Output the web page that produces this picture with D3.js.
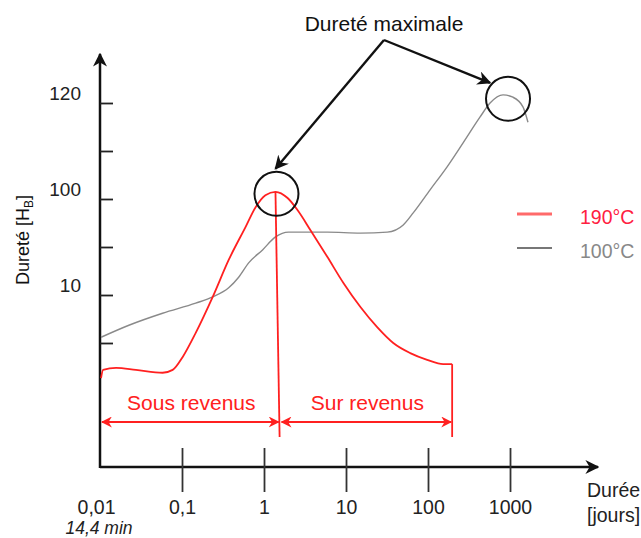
<!DOCTYPE html>
<html>
<head>
<meta charset="utf-8">
<style>
body { margin: 0; background: #fff; }
svg text { font-family: "Liberation Sans", Arial, sans-serif; }
</style>
</head>
<body>
<script src="https://cdn.jsdelivr.net/npm/d3@7/dist/d3.min.js"></script>
<script>
// durée en jours (échelle log), dureté en graduations de l'axe
const xTicks = [0.01, 0.1, 1, 10, 100, 1000];
const xTickLabels = ["0,01", "0,1", "1", "10", "100", "1000"];
const yTicks = [1, 2, 3, 4, 5, 6];
const yTickLabels = ["", "10", "", "100", "", "120"];

const days190 = [0.0103, 0.0109, 0.0157, 0.0274, 0.058, 0.077, 0.102, 0.147, 0.237, 0.371, 0.597, 0.79, 1.04, 1.38,
                 1.94, 2.56, 3.69, 5.94, 9.3, 15, 24, 37.7, 60.7, 97.7, 153, 197];
const hard190 = [0.27, 0.44, 0.48, 0.44, 0.38, 0.44, 0.71, 1.21, 1.96, 2.73, 3.42, 3.83, 4.08, 4.15,
                 4.02, 3.77, 3.35, 2.79, 2.25, 1.75, 1.33, 1.0, 0.79, 0.65, 0.56, 0.56];

const days100 = [0.0103, 0.0225, 0.058, 0.147, 0.237, 0.371, 0.491, 0.65, 0.96, 1.38, 1.99, 5.94, 15, 31.9,
                 49.9, 66, 106, 171, 268, 432, 571, 822, 1087, 1439, 1656];
const hard100 = [1.12, 1.37, 1.62, 1.83, 1.96, 2.15, 2.37, 2.67, 2.94, 3.21, 3.31, 3.31, 3.29, 3.31,
                 3.46, 3.71, 4.19, 4.67, 5.17, 5.71, 6.0, 6.17, 6.12, 5.92, 5.6];

const seriesNames = ["190°C", "100°C"];
const peakDays = [1.38, 822];     // maxima entourés
const peakHard = [4.15, 6.17];
const splitDays = 1.55;           // limite sous / sur revenus
const endDays = 197;

const width = 641, height = 538;
const x0 = 100, y0 = 467;

const xScale = d3.scaleLog().domain([0.01, 1000]).range([100, 510]);
const yScale = d3.scaleLinear().domain([1, 6]).range([343, 103]);

const svg = d3.select("body").append("svg")
    .attr("width", width)
    .attr("height", height);

const defs = svg.append("defs");
function marker(id, color, size) {
    defs.append("marker")
        .attr("id", id)
        .attr("viewBox", "0 0 10 10")
        .attr("refX", 9).attr("refY", 5)
        .attr("markerWidth", size).attr("markerHeight", size)
        .attr("markerUnits", "userSpaceOnUse")
        .attr("orient", "auto-start-reverse")
        .append("path")
        .attr("d", "M0,0 L10,5 L0,10 L3,5 Z")
        .attr("fill", color);
}
marker("arrBlack", "#111", 14);
marker("arrRed", "#ff2020", 11);

// axes
svg.append("line")
    .attr("x1", x0).attr("y1", y0).attr("x2", 598).attr("y2", y0)
    .attr("stroke", "#111").attr("stroke-width", 2.5)
    .attr("marker-end", "url(#arrBlack)");
svg.append("line")
    .attr("x1", x0).attr("y1", y0 + 1).attr("x2", x0).attr("y2", 54)
    .attr("stroke", "#111").attr("stroke-width", 2.5)
    .attr("marker-end", "url(#arrBlack)");

const xAxis = svg.append("g")
    .attr("transform", `translate(0,${y0})`)
    .call(d3.axisBottom(xScale).tickValues(xTicks)
        .tickFormat((d, i) => xTickLabels[i]).tickSizeInner(25).tickSizeOuter(0).tickPadding(8));
xAxis.select(".domain").remove();
xAxis.selectAll(".tick line")
    .attr("y1", -19).attr("stroke", "#333").attr("stroke-width", 1.8)
    .attr("display", d => d === 0.01 ? "none" : null);
xAxis.selectAll(".tick text")
    .attr("font-size", 19.5).attr("fill", "#222")
    .attr("font-family", "Liberation Sans, Arial, sans-serif");
xAxis.selectAll(".tick text").filter(d => d === 0.01).attr("dx", -4);

const yAxis = svg.append("g")
    .attr("transform", `translate(${x0},0)`)
    .call(d3.axisLeft(yScale).tickValues(yTicks)
        .tickFormat((d, i) => yTickLabels[i]).tickSizeInner(13).tickSizeOuter(0).tickPadding(6));
yAxis.select(".domain").remove();
yAxis.selectAll(".tick line")
    .attr("x2", 13).attr("stroke", "#222").attr("stroke-width", 1.8);
yAxis.selectAll(".tick text")
    .attr("font-size", 19).attr("fill", "#222").attr("dy", "-0.2em")
    .attr("font-family", "Liberation Sans, Arial, sans-serif");

svg.append("text")
    .attr("x", 99).attr("y", 534)
    .attr("text-anchor", "middle")
    .attr("font-size", 17.5).attr("font-style", "italic").attr("fill", "#222")
    .text("14,4 min");

svg.append("text").attr("x", 587).attr("y", 497)
    .attr("font-size", 19.5).attr("fill", "#222").text("Durée");
svg.append("text").attr("x", 587).attr("y", 522)
    .attr("font-size", 19.5).attr("fill", "#222").text("[jours]");

const ylab = svg.append("text")
    .attr("transform", "translate(29,240) rotate(-90)")
    .attr("text-anchor", "middle")
    .attr("font-size", 18).attr("fill", "#111");
ylab.append("tspan").text("Dureté [H");
ylab.append("tspan").attr("font-size", 12).attr("dy", 4).text("B");
ylab.append("tspan").attr("dy", -4).text("]");

// courbes
const line = d3.line()
    .x(d => xScale(d[0]))
    .y(d => yScale(d[1]))
    .curve(d3.curveMonotoneX);

svg.append("path")
    .datum(days100.map((d, i) => [d, hard100[i]]))
    .attr("fill", "none")
    .attr("stroke", "#8a8a8a")
    .attr("stroke-width", 1.4)
    .attr("d", line);

svg.append("path")
    .datum(days190.map((d, i) => [d, hard190[i]]))
    .attr("fill", "none")
    .attr("stroke", "#ff2020")
    .attr("stroke-width", 1.8)
    .attr("d", line);

// sous / sur revenus
const bracketY = 422, bracketBottom = 437;
svg.append("line")
    .attr("x1", xScale(peakDays[0])).attr("y1", yScale(peakHard[0]))
    .attr("x2", xScale(splitDays)).attr("y2", bracketBottom)
    .attr("stroke", "#ff2020").attr("stroke-width", 1.8);
svg.append("line")
    .attr("x1", xScale(endDays)).attr("y1", yScale(hard190[hard190.length - 1]))
    .attr("x2", xScale(endDays)).attr("y2", bracketBottom)
    .attr("stroke", "#ff2020").attr("stroke-width", 1.8);

const spans = [
    {from: 0.01, to: splitDays, label: "Sous revenus"},
    {from: splitDays, to: endDays, label: "Sur revenus"}
];
spans.forEach(s => {
    const a = xScale(s.from) + 2, b = xScale(s.to) - 1;
    svg.append("line")
        .attr("x1", a).attr("y1", bracketY).attr("x2", b).attr("y2", bracketY)
        .attr("stroke", "#ff2020").attr("stroke-width", 2.2)
        .attr("marker-start", "url(#arrRed)")
        .attr("marker-end", "url(#arrRed)");
    svg.append("text")
        .attr("x", (a + b) / 2 + 1).attr("y", 410)
        .attr("text-anchor", "middle")
        .attr("font-size", 21).attr("fill", "#ff2020")
        .text(s.label);
});

// dureté maximale
const apex = [384, 40];
const tipOffsets = [[-1, -25], [-18, -16]];
svg.append("text")
    .attr("x", apex[0]).attr("y", 31)
    .attr("text-anchor", "middle")
    .attr("font-size", 21).attr("fill", "#111")
    .text("Dureté maximale");

peakDays.forEach((d, i) => {
    const cx = xScale(d) + (i === 0 ? 1 : 5), cy = yScale(peakHard[i]) + (i === 0 ? 2 : 4);
    svg.append("circle")
        .attr("cx", cx).attr("cy", cy).attr("r", 22)
        .attr("fill", "none").attr("stroke", "#111").attr("stroke-width", 2);
    svg.append("line")
        .attr("x1", apex[0]).attr("y1", apex[1])
        .attr("x2", cx + tipOffsets[i][0]).attr("y2", cy + tipOffsets[i][1])
        .attr("stroke", "#111").attr("stroke-width", 2.4)
        .attr("marker-end", "url(#arrBlack)");
});

// légende
const legColors = ["#ff6a6a", "#777"];
const legText = ["#ff2040", "#888"];
seriesNames.forEach((name, i) => {
    const ly = 214 + i * 34;
    svg.append("line")
        .attr("x1", 517).attr("x2", 552).attr("y1", ly).attr("y2", ly)
        .attr("stroke", legColors[i]).attr("stroke-width", i === 0 ? 3.2 : 1.8);
    svg.append("text")
        .attr("x", 580).attr("y", ly + 10)
        .attr("font-size", 19.5).attr("fill", legText[i])
        .text(name);
});
</script>
</body>
</html>
